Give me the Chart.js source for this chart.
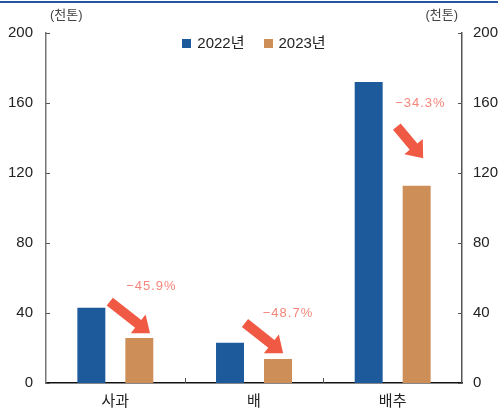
<!DOCTYPE html>
<html>
<head>
<meta charset="utf-8">
<script src="https://cdn.jsdelivr.net/npm/chart.js@4"></script>
<style>
  html, body { margin: 0; padding: 0; background: #fff; }
  #wrap { width: 498px; height: 413px; }
</style>
</head>
<body>
<div id="wrap"><canvas id="stockChart" width="498" height="413"></canvas></div>
<script>
const categories = ['사과', '배', '배추'];
const seriesNames = ['2022년', '2023년'];
const values2022 = [43, 23, 172];
const values2023 = [25.7, 13.7, 112.7];
const yTicks = [0, 40, 80, 120, 160, 200];
const unitLabel = '(천톤)';

// change callouts: [offset in category widths, value]
const changeLabels = ['\u221245.9%', '\u221248.7%', '\u221234.3%'];
const labelAt = [[0.26, 55], [0.245, 40], [0.2, 160]];
const arrowFrom = [[-0.04, 46.5], [-0.065, 34.3], [0.03, 146.5]];
const arrowTo = [[0.25, 28.5], [0.21, 17], [0.22, 128.5]];

const FONT = "'Liberation Sans', 'Noto Sans CJK KR', Arial, sans-serif";
const blue = '#1d5a9c';
const tan = '#cd8f57';

const ctx = document.getElementById('stockChart').getContext('2d');

function drawArrow(c, x1, y1, x2, y2) {
    const ang = Math.atan2(y2 - y1, x2 - x1);
    const len = Math.hypot(x2 - x1, y2 - y1);
    const shaft = 5, head = 12, headLen = 15;
    c.save();
    c.translate(x1, y1);
    c.rotate(ang);
    c.beginPath();
    c.moveTo(0, -shaft);
    c.lineTo(len - headLen, -shaft);
    c.lineTo(len - headLen, -head);
    c.lineTo(len, 0);
    c.lineTo(len - headLen, head);
    c.lineTo(len - headLen, shaft);
    c.lineTo(0, shaft);
    c.closePath();
    c.fillStyle = '#f05a44';
    c.fill();
    c.restore();
}

const decorations = {
    id: 'decorations',
    afterDraw(chart) {
        const c = chart.ctx;
        const area = chart.chartArea;
        const x = chart.scales.x;
        const y = chart.scales.y;
        const step = x.getPixelForValue(1) - x.getPixelForValue(0);
        const px = (i, p) => x.getPixelForValue(i) + p[0] * step;

        c.save();
        // top rule
        c.fillStyle = '#2456a4';
        c.fillRect(0, 1, chart.width, 2);

        // unit labels
        c.font = '13px ' + FONT;
        c.fillStyle = '#444';
        c.textBaseline = 'middle';
        c.textAlign = 'left';
        c.fillText(unitLabel, 50, 15);
        c.textAlign = 'right';
        c.fillText(unitLabel, 458, 15);

        // legend, centred at the top of the plot
        c.font = '15px ' + FONT;
        const items = chart.data.datasets.map(d => ({ text: d.label, color: d.backgroundColor, w: c.measureText(d.label).width }));
        const box = 9, gap = 6, spacing = 19;
        const total = items.reduce((s, it) => s + box + gap + it.w, 0) + spacing * (items.length - 1);
        let lx = (area.left + area.right) / 2 - total / 2;
        const ly = area.top + 10;
        c.textAlign = 'left';
        c.textBaseline = 'middle';
        items.forEach(it => {
            c.fillStyle = it.color;
            c.fillRect(Math.round(lx), Math.round(ly - box / 2), box, box);
            c.fillStyle = '#222';
            c.fillText(it.text, lx + box + gap, ly + 1);
            lx += box + gap + it.w + spacing;
        });

        // inward tick marks on both value axes
        c.strokeStyle = '#555';
        c.lineWidth = 1;
        yTicks.forEach(v => {
            const py = Math.round(y.getPixelForValue(v)) + 0.5;
            c.beginPath();
            c.moveTo(area.left, py);
            c.lineTo(area.left + 4, py);
            c.moveTo(area.right, py);
            c.lineTo(area.right - 4, py);
            c.stroke();
        });
        // category separators on the base line
        for (let i = 0; i < categories.length - 1; i++) {
            const sx = Math.round(x.getPixelForValue(i) + step / 2) + 0.5;
            c.beginPath();
            c.moveTo(sx, area.bottom);
            c.lineTo(sx, area.bottom - 5);
            c.stroke();
        }

        // change arrows and labels
        categories.forEach((_, i) => {
            drawArrow(c,
                px(i, arrowFrom[i]), y.getPixelForValue(arrowFrom[i][1]),
                px(i, arrowTo[i]), y.getPixelForValue(arrowTo[i][1]));
            c.font = '13px ' + FONT;
            c.fillStyle = '#f4867a';
            c.textAlign = 'center';
            c.textBaseline = 'middle';
            c.letterSpacing = '1px';
            c.fillText(changeLabels[i], px(i, labelAt[i]), y.getPixelForValue(labelAt[i][1]));
            c.letterSpacing = '0px';
        });
        c.restore();
    }
};

new Chart(ctx, {
    type: 'bar',
    data: {
        labels: categories,
        datasets: [{
            label: seriesNames[0],
            data: values2022,
            backgroundColor: blue,
            categoryPercentage: 0.692,
            barPercentage: 0.583
        }, {
            label: seriesNames[1],
            data: values2023,
            backgroundColor: tan,
            categoryPercentage: 0.692,
            barPercentage: 0.583
        }]
    },
    options: {
        responsive: false,
        animation: false,
        layout: { padding: { top: 33, left: 0, right: 0, bottom: 0 } },
        plugins: {
            legend: { display: false },
            tooltip: { enabled: false }
        },
        scales: {
            x: {
                grid: { display: false, drawTicks: false },
                border: { color: '#111', width: 1.5 },
                ticks: { color: '#222', padding: 10, font: { family: FONT, size: 15 } },
                afterFit: s => { s.height = 30; }
            },
            y: {
                position: 'left',
                min: 0,
                max: 200,
                afterBuildTicks: s => { s.ticks = yTicks.map(v => ({ value: v })); },
                grid: { display: false, drawTicks: false },
                border: { color: '#777', width: 1.5 },
                ticks: { color: '#222', padding: 13, font: { family: FONT, size: 15 } },
                afterFit: s => { s.width = 46; }
            },
            y2: {
                position: 'right',
                min: 0,
                max: 200,
                afterBuildTicks: s => { s.ticks = yTicks.map(v => ({ value: v })); },
                grid: { display: false, drawTicks: false },
                border: { color: '#555', width: 1.5 },
                ticks: { color: '#222', padding: 11, font: { family: FONT, size: 15 } },
                afterFit: s => { s.width = 36; }
            }
        }
    },
    plugins: [decorations]
});
</script>
</body>
</html>
